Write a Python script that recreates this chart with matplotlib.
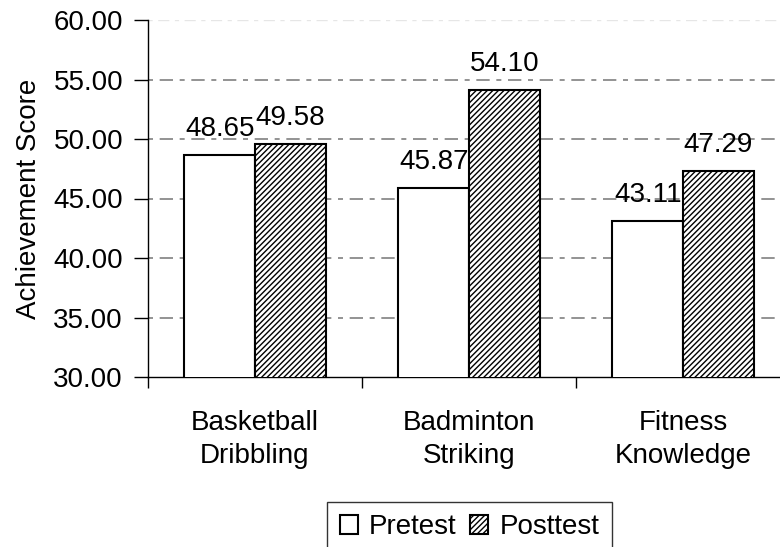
import matplotlib
matplotlib.use("Agg")
import matplotlib.pyplot as plt
import numpy as np

plt.rcParams['font.family'] = ['Liberation Sans', 'DejaVu Sans']
plt.rcParams['hatch.linewidth'] = 1.0

categories = ['Basketball\nDribbling', 'Badminton\nStriking', 'Fitness\nKnowledge']
pretest = [48.65, 45.87, 43.11]
posttest = [49.58, 54.10, 47.29]
yticks = [30, 35, 40, 45, 50, 55, 60]

FS = 20

fig = plt.figure(figsize=(7.8, 5.47), dpi=100)
# axes runs past the right edge of the figure, as in the original
ax = fig.add_axes([148 / 780, 1 - 377 / 547, 642 / 780, 357 / 547])

x = np.arange(len(categories))
w = 0.33
b1 = ax.bar(x - w / 2, pretest, w, color='white', edgecolor='black',
            linewidth=1.5, label='Pretest', zorder=3)
b2 = ax.bar(x + w / 2, posttest, w, color='white', edgecolor='black', hatch='//////',
            linewidth=1.5, label='Posttest', zorder=3)

for bars, vals in [(b1, pretest), (b2, posttest)]:
    for rect, v in zip(bars, vals):
        ax.annotate(f'{v:.2f}', (rect.get_x() + rect.get_width() / 2, v),
                    xytext=(0, 14), textcoords='offset points',
                    ha='center', va='baseline', fontsize=FS, zorder=4)

ax.set_xlim(-0.5, 2.5)
ax.set_ylim(30, 60)
ax.set_yticks(yticks)
ax.set_yticklabels([f'{t:.2f}' for t in yticks], fontsize=FS)
ax.set_ylabel('Achievement Score', fontsize=FS, labelpad=8)

ax.set_xticks([-0.5, 0.5, 1.5, 2.5])
ax.set_xticklabels([])
ax.set_xticks(x, minor=True)
ax.set_xticklabels(categories, minor=True, fontsize=FS, linespacing=1.35)
ax.tick_params(axis='x', which='minor', length=0, pad=24)
ax.tick_params(axis='x', which='major', direction='out', length=8, width=1)
ax.tick_params(axis='y', direction='out', length=10, width=1, pad=8)

for t in yticks[1:-1]:
    ax.axhline(t, color='#808080', linewidth=1.2, linestyle=(0, (3, 4, 8, 4)), zorder=1)
ax.axhline(yticks[-1], color='#e6e6e6', linewidth=1.0, linestyle=(0, (3, 4, 8, 4)), zorder=1)

ax.spines['top'].set_visible(False)
ax.spines['right'].set_visible(False)
ax.spines['left'].set_linewidth(1)
ax.spines['bottom'].set_linewidth(1)

leg = fig.legend(handles=[b1, b2], loc='upper left', bbox_to_anchor=(327 / 780, 1 - 502 / 547),
                 ncol=2, fontsize=FS, frameon=True, fancybox=False, borderpad=0.45,
                 handlelength=0.65, handleheight=0.65, handletextpad=0.4, columnspacing=0.5,
                 borderaxespad=0)
leg.get_frame().set_edgecolor('black')
leg.get_frame().set_linewidth(1)

fig.savefig('out.png', dpi=100)
